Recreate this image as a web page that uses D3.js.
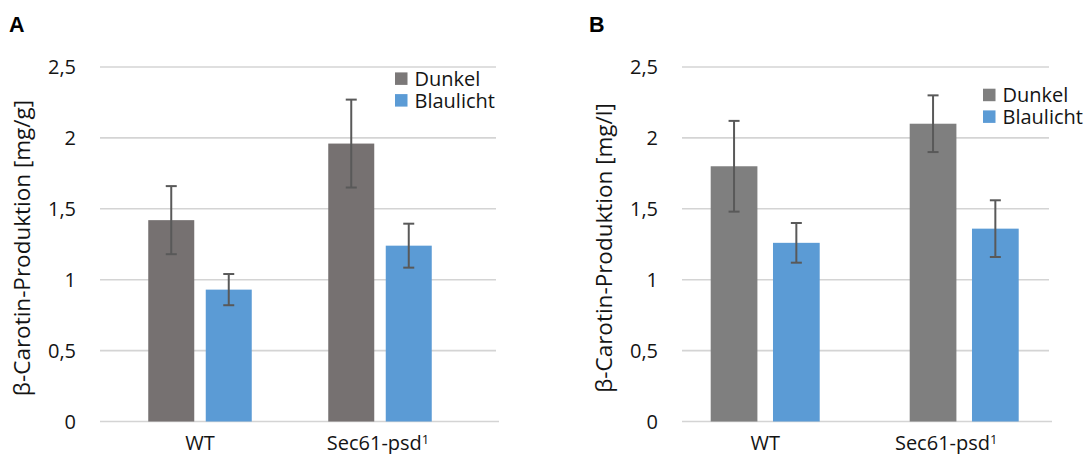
<!DOCTYPE html>
<html lang="de">
<head>
<meta charset="utf-8">
<title>β-Carotin-Produktion</title>
<script src="https://d3js.org/d3.v7.min.js"></script>
<style>
  body { margin: 0; background: #fff; }
  svg text { font-family: "Open Sans", "Noto Sans", sans-serif; fill: #141414; }
  .panel-label { font-family: "Liberation Sans", Arial, sans-serif !important; font-weight: bold; fill: #000 !important; }
</style>
</head>
<body>
<div id="chart"></div>
<script>
// --- data ---
var groups = ["WT", "Sec61-psd"];
var series = ["Dunkel", "Blaulicht"];
var yTicks = [0, 0.5, 1, 1.5, 2, 2.5];

// panel A: mg/g
var dunkelA = [1.42, 1.96];
var blauA = [0.93, 1.24];
var errDunkelA = [0.24, 0.31];
var errBlauA = [0.11, 0.155];

// panel B: mg/l
var dunkelB = [1.80, 2.10];
var blauB = [1.26, 1.36];
var errDunkelB = [0.32, 0.20];
var errBlauB = [0.14, 0.20];

var W = 1087, H = 454;
var svg = d3.select("#chart").append("svg")
    .attr("width", W)
    .attr("height", H);

var de = d3.formatLocale({decimal: ",", thousands: ".", grouping: [3], currency: ["", " €"]});
var fmt = de.format("~g");

function drawPanel(p) {
  var g = svg.append("g");
  var blueColor = "#5b9bd5";
  var colors = [p.dunkelColor, blueColor];

  var y = d3.scaleLinear().domain([0, 2.5]).range([421.5, 67]);
  var x0 = d3.scaleBand().domain(groups).range(p.catRange);
  var x1 = d3.scaleBand().domain(series)
      .range([x0.bandwidth() / 2 - p.groupWidth / 2, x0.bandwidth() / 2 + p.groupWidth / 2])
      .paddingInner(p.innerPad);

  // gridlines
  g.append("g").selectAll("line")
    .data(yTicks)
    .enter().append("line")
      .attr("x1", p.gridX[0])
      .attr("x2", function(d) { return d === 0 ? p.gridX[1] + 3 : p.gridX[1]; })
      .attr("y1", function(d) { return y(d); })
      .attr("y2", function(d) { return y(d); })
      .attr("stroke", "#d4d4d4")
      .attr("stroke-width", 1.6);

  // y tick labels
  g.append("g").selectAll("text")
    .data(yTicks)
    .enter().append("text")
      .attr("x", p.gridX[0] - 24)
      .attr("y", function(d) { return y(d); })
      .attr("dy", "0.36em")
      .attr("text-anchor", "end")
      .style("font-size", "20px")
      .text(function(d) { return fmt(d); });

  // y title
  g.append("text")
    .attr("transform", "translate(" + p.titleX + ",248) rotate(-90)")
    .attr("text-anchor", "middle")
    .style("font-size", "22.5px")
    .text(p.title);

  // bars
  var rows = groups.map(function(grp, i) {
    return [
      {grp: grp, s: series[0], v: p.dunkel[i], e: p.errDunkel[i]},
      {grp: grp, s: series[1], v: p.blau[i], e: p.errBlau[i]}
    ];
  });

  var gg = g.selectAll(".grp")
    .data(rows)
    .enter().append("g")
      .attr("class", "grp")
      .attr("transform", function(d) { return "translate(" + x0(d[0].grp) + ",0)"; });

  gg.selectAll("rect")
    .data(function(d) { return d; })
    .enter().append("rect")
      .attr("x", function(d) { return x1(d.s); })
      .attr("y", function(d) { return y(d.v); })
      .attr("width", x1.bandwidth())
      .attr("height", function(d) { return y(0) - y(d.v); })
      .attr("fill", function(d, i) { return colors[i]; });

  // error bars
  var eb = gg.selectAll(".err")
    .data(function(d) { return d; })
    .enter().append("g")
      .attr("class", "err")
      .attr("stroke", "#595959")
      .attr("stroke-width", 2);
  var cx = function(d) { return x1(d.s) + x1.bandwidth() / 2; };
  eb.append("line")
    .attr("x1", cx).attr("x2", cx)
    .attr("y1", function(d) { return y(d.v + d.e); })
    .attr("y2", function(d) { return y(d.v - d.e); });
  [1, -1].forEach(function(sign) {
    eb.append("line")
      .attr("x1", function(d) { return cx(d) - 5.5; })
      .attr("x2", function(d) { return cx(d) + 5.5; })
      .attr("y1", function(d) { return y(d.v + sign * d.e); })
      .attr("y2", function(d) { return y(d.v + sign * d.e); });
  });

  // x labels
  var xl = g.append("g").selectAll("text")
    .data(groups)
    .enter().append("text")
      .attr("x", function(d, i) { return x0(d) + x0.bandwidth() / 2 + p.labelDx[i]; })
      .attr("y", 450)
      .attr("text-anchor", "middle")
      .style("font-size", "20px");
  xl.append("tspan").text(function(d) { return d; });
  xl.filter(function(d) { return d === "Sec61-psd"; })
    .append("tspan")
      .attr("dy", "-0.45em")
      .style("font-size", "13px")
      .text("1");

  // legend
  var lg = g.append("g").selectAll("g")
    .data(series)
    .enter().append("g")
      .attr("transform", function(d, i) { return "translate(" + p.legendX + "," + (p.legendY + i * 21.7) + ")"; });
  lg.append("rect")
    .attr("x", 0).attr("y", -6.3)
    .attr("width", 12.5).attr("height", 12.5)
    .attr("fill", function(d, i) { return i === 0 ? p.legendDunkel : blueColor; });
  lg.append("text")
    .attr("x", 19.5)
    .attr("y", 0)
    .attr("dy", "0.36em")
    .style("font-size", "20px")
    .text(function(d) { return d; });

  // panel letter
  g.append("text")
    .attr("class", "panel-label")
    .attr("x", p.letterX)
    .attr("y", 32)
    .style("font-size", "21.5px")
    .text(p.letter);
}

drawPanel({
  letter: "A", letterX: 9,
  title: "β-Carotin-Produktion [mg/g]", titleX: 30,
  dunkel: dunkelA, blau: blauA, errDunkel: errDunkelA, errBlau: errBlauA,
  dunkelColor: "#767171", legendDunkel: "#7b7878",
  catRange: [110, 470], groupWidth: 103.5, innerPad: 0.2,
  gridX: [100, 496], labelDx: [0, -2],
  legendX: 395, legendY: 78.7
});

drawPanel({
  letter: "B", letterX: 589,
  title: "β-Carotin-Produktion [mg/l]", titleX: 612,
  dunkel: dunkelB, blau: blauB, errDunkel: errDunkelB, errBlau: errBlauB,
  dunkelColor: "#7f7f7f", legendDunkel: "#7f7f7f",
  catRange: [665.7, 1063.7], groupWidth: 109, innerPad: 0.25,
  gridX: [682, 1049], labelDx: [0, -18],
  legendX: 983, legendY: 95
});
</script>
</body>
</html>
